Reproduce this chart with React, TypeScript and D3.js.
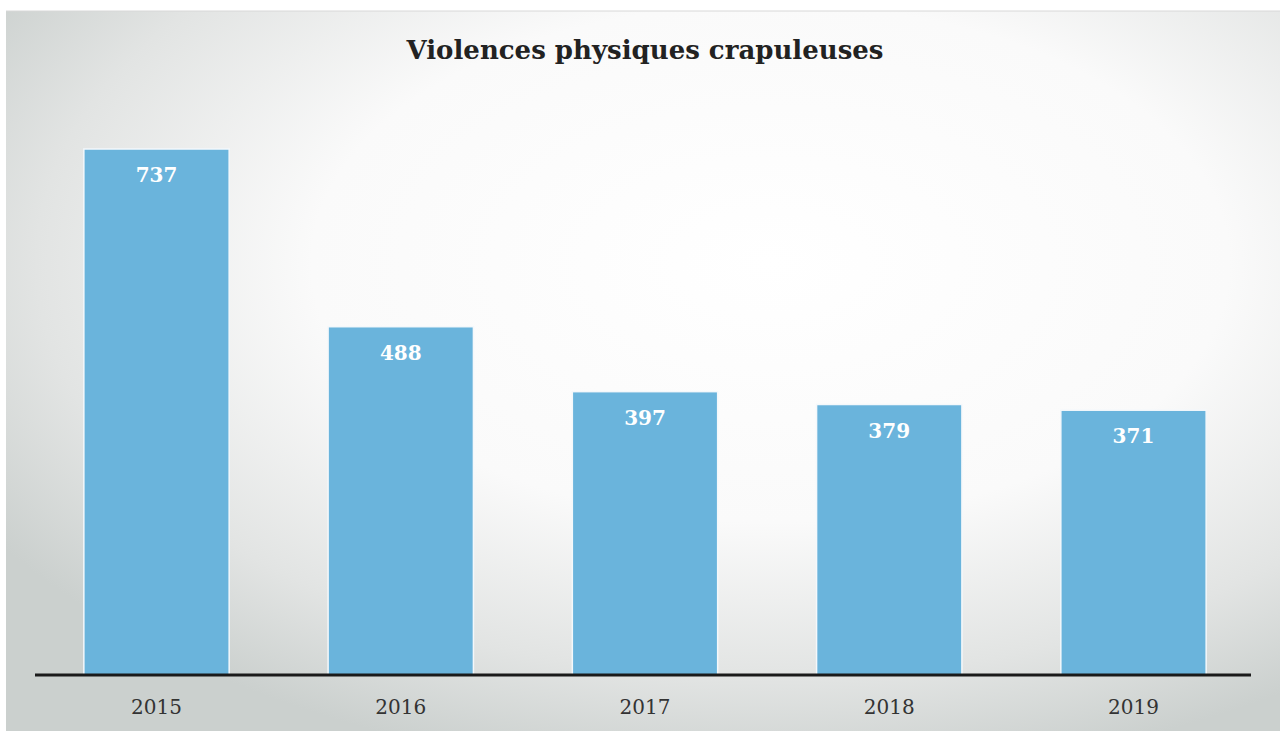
import React from "react";
import * as d3 from "d3";

const categories = ["2015", "2016", "2017", "2018", "2019"];
const values = [737, 488, 397, 379, 371];
const title = "Violences physiques crapuleuses";

export default function App() {
  const W = 1280, H = 731;
  const baseline = 675;
  const x = d3.scaleBand<string>().domain(categories).range([35, 1255]).paddingInner(0.405).paddingOuter(0.2);
  const y = d3.scaleLinear().domain([0, 737]).range([baseline, 149]);
  return (
    <svg width={W} height={H} style={{ position: "absolute", left: 0, top: 0, display: "block" }}>
      <defs>
        <radialGradient id="bg" cx="0.6" cy="0.35" r="0.72">
          <stop offset="0" stopColor="#ffffff" />
          <stop offset="0.5" stopColor="#fafafa" />
          <stop offset="0.8" stopColor="#e2e4e3" />
          <stop offset="1" stopColor="#cbd0ce" />
        </radialGradient>
      </defs>
      <rect x={0} y={0} width={W} height={H} fill="#ffffff" />
      <rect x={6} y={11} width={W - 6} height={H - 11} fill="url(#bg)" />
      <line x1={6} x2={W} y1={11} y2={11} stroke="#d8d8d8" strokeWidth={1} />
      <text x={645} y={59} textAnchor="middle" fontFamily="'DejaVu Serif', serif" fontWeight="bold" fontSize={26} fill="#222">
        {title}
      </text>
      {categories.map((c, i) => (
        <g key={c}>
          <rect x={x(c)} y={y(values[i])} width={x.bandwidth()} height={baseline - y(values[i])} fill="#6ab4dc" stroke="#f4f8fb" strokeWidth={1.5} />
          <text x={(x(c) as number) + x.bandwidth() / 2} y={y(values[i]) + 33} textAnchor="middle" fontFamily="'DejaVu Serif', serif" fontWeight="bold" fontSize={20} fill="#ffffff">
            {values[i]}
          </text>
          <text x={(x(c) as number) + x.bandwidth() / 2} y={714} textAnchor="middle" fontFamily="'DejaVu Serif', serif" fontSize={20} fill="#333">
            {c}
          </text>
        </g>
      ))}
      <line x1={35} x2={1251} y1={baseline} y2={baseline} stroke="#1a1a1a" strokeWidth={3} />
    </svg>
  );
}
